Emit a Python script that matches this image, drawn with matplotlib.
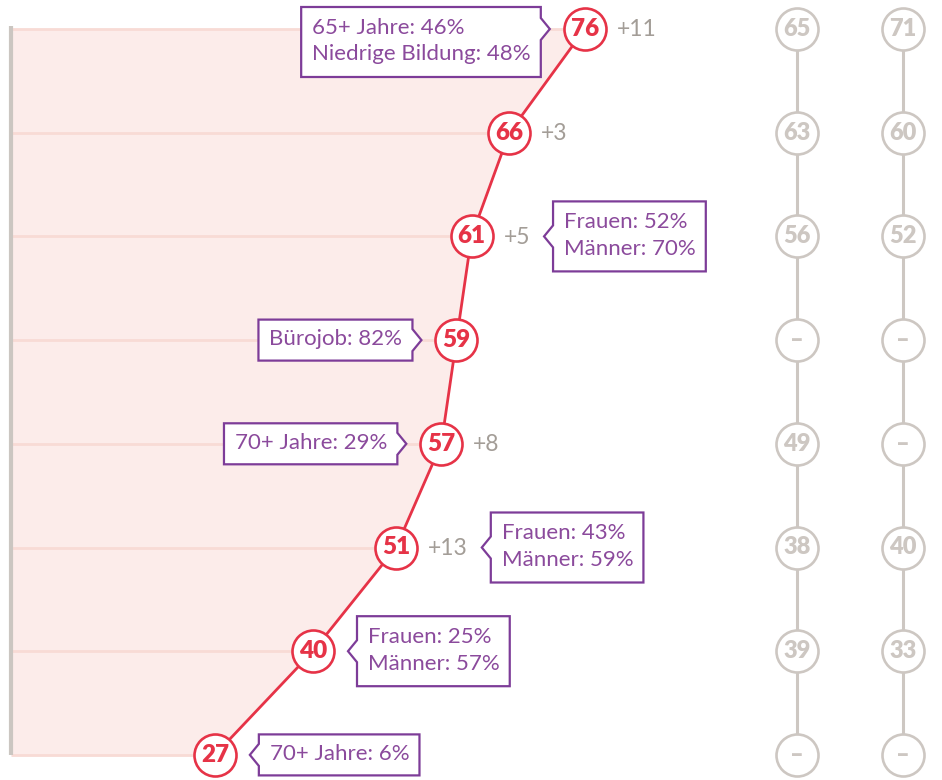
import matplotlib
matplotlib.use('Agg')
import matplotlib.pyplot as plt
from matplotlib.patches import Polygon
from matplotlib.transforms import IdentityTransform

plt.rcParams['font.family'] = ['Lato', 'DejaVu Sans']

# values per row, top to bottom
values = [76, 66, 61, 59, 57, 51, 40, 27]
changes = ['+11', '+3', '+5', None, '+8', '+13', None, None]
compare_a = ['65', '63', '56', '–', '49', '38', '39', '–']
compare_b = ['71', '60', '52', '–', '–', '40', '33', '–']
note_rows = [0, 2, 3, 4, 5, 6, 7]
note_texts = ['65+ Jahre: 46%\nNiedrige Bildung: 48%',
              'Frauen: 52%\nMänner: 70%',
              'Bürojob: 82%',
              '70+ Jahre: 29%',
              'Frauen: 43%\nMänner: 59%',
              'Frauen: 25%\nMänner: 57%',
              '70+ Jahre: 6%']
note_sides = ['left', 'right', 'left', 'left', 'right', 'right', 'right']

RED = '#e63347'
PURPLE = '#7d3c98'
PURPLE_TXT = '#8b4a9c'
GREY = '#cdc7c2'
GREY_TXT = '#a39d97'
PINK = '#fcecea'
PINK_LINE = '#f8dbd5'

W, H = 942, 780
unit = 7.55          # pixels per percentage point
x0_px = 11
row0_px, row_step = 29, 103.7
col_px = [797, 903]
rad = 21             # circle radius in px

fig = plt.figure(figsize=(W / 100, H / 100), dpi=100)
ax = fig.add_axes([0, 0, 1, 1])
ax.set_xlim(-x0_px / unit, (W - x0_px) / unit)
ax.set_ylim((H - row0_px) / row_step, -row0_px / row_step)
ax.axis('off')

rows = list(range(len(values)))
n = len(rows)

# shaded area left of the curve
ax.fill_betweenx(rows, 0, values, color=PINK, lw=0, zorder=0)
ax.hlines(rows, 0, values, color=PINK_LINE, lw=2, zorder=1)
ax.vlines(0, -0.03, n - 1, color='#cbc6c1', lw=3, zorder=1)

ax.plot(values, rows, color=RED, lw=2, zorder=3)
msize = (2 * rad * 0.72) ** 2
ax.scatter(values, rows, s=msize, facecolor='white', edgecolor=RED, linewidth=1.9, zorder=4)
for v, r in zip(values, rows):
    ax.text(v, r, str(v), ha='center', va='center', color=RED,
            fontsize=17.5, fontweight='heavy', zorder=5)

# comparison columns
for cpx, labels in zip(col_px, [compare_a, compare_b]):
    cx = (cpx - x0_px) / unit
    ax.vlines(cx, 0, n - 1, color=GREY, lw=2.2, zorder=1)
    ax.scatter([cx] * n, rows, s=msize, facecolor='white', edgecolor=GREY, linewidth=1.9, zorder=4)
    for r, lab in zip(rows, labels):
        ax.text(cx, r, lab, ha='center', va='center', color=GREY,
                fontsize=17, fontweight='heavy', zorder=5)

fig.canvas.draw()
renderer = fig.canvas.get_renderer()
ident = IdentityTransform()

# change labels right of the circles
change_right = {}
for v, r, ch in zip(values, rows, changes):
    px, py = ax.transData.transform((v, r))
    if ch is None:
        continue
    t = ax.text(px + rad + 11, py - 1, ch, transform=ident, ha='left', va='center',
                color=GREY_TXT, fontsize=16.5, zorder=5)
    change_right[r] = t.get_window_extent(renderer).x1

# callout boxes with a small pointer towards the circle
gap, notch_w, notch_h = 14, 9, 11
pad_l, pad_r = 11, 10
for r, txt, side in zip(note_rows, note_texts, note_sides):
    px, py = ax.transData.transform((values[r], r))
    lines = txt.count('\n') + 1
    bh = 41 if lines == 1 else 70
    cy = py - 13 if r == 0 else py
    if side == 'left':
        tip = px - rad - gap
        t = ax.text(tip - notch_w - pad_r, cy + 1, txt, transform=ident, ha='right', va='center',
                    multialignment='left', color=PURPLE_TXT, fontsize=16,
                    linespacing=1.42, zorder=7)
    else:
        start = change_right.get(r, px + rad)
        tip = start + gap
        t = ax.text(tip + notch_w + pad_l, cy + 1, txt, transform=ident, ha='left', va='center',
                    multialignment='left', color=PURPLE_TXT, fontsize=16,
                    linespacing=1.42, zorder=7)
    bb = t.get_window_extent(renderer)
    top, bot = cy + bh / 2, cy - bh / 2
    L, R = bb.x0 - pad_l, bb.x1 + pad_r
    if side == 'left':
        verts = [(L, top), (R, top), (R, py + notch_h), (R + notch_w, py),
                 (R, py - notch_h), (R, bot), (L, bot)]
    else:
        verts = [(R, top), (L, top), (L, py + notch_h), (L - notch_w, py),
                 (L, py - notch_h), (L, bot), (R, bot)]
    ax.add_patch(Polygon(verts, closed=True, transform=ident, facecolor='white',
                         edgecolor=PURPLE, lw=1.6, joinstyle='miter', zorder=6))

fig.savefig('out.png', dpi=100)
